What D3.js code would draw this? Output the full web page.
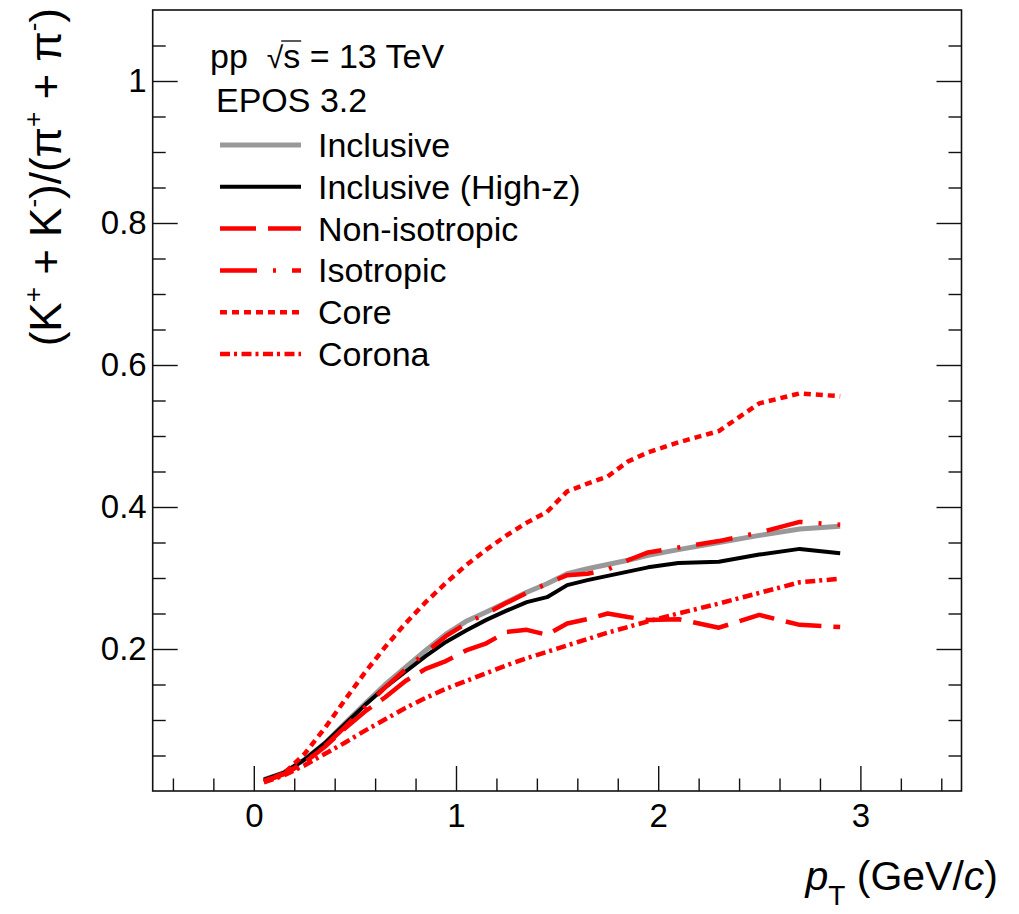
<!DOCTYPE html>
<html>
<head>
<meta charset="utf-8">
<script src="https://cdn.jsdelivr.net/npm/d3@7"></script>
<style>
  html, body { margin: 0; padding: 0; background: #fff; }
  svg { display: block; font-family: "Liberation Sans", Arial, Helvetica, sans-serif; }
</style>
</head>
<body>
<svg id="chart" width="1019" height="914"></svg>
<script>
// pT bin centres (GeV/c): 0.1 wide up to 2.0, 0.2 wide above
const ptBins = [0.05, 0.15, 0.25, 0.35, 0.45, 0.55, 0.65, 0.75, 0.85, 0.95,
                1.05, 1.15, 1.25, 1.35, 1.45, 1.55, 1.65, 1.75, 1.85, 1.95,
                2.1, 2.3, 2.5, 2.7, 2.9];

// (K+ + K-)/(pi+ + pi-) from EPOS 3.2, pp at 13 TeV
const inclusive    = [0.016, 0.026, 0.044, 0.067, 0.095, 0.123, 0.150, 0.174, 0.198, 0.221,
                      0.239, 0.252, 0.266, 0.280, 0.292, 0.306, 0.313, 0.319, 0.325, 0.332,
                      0.340, 0.350, 0.360, 0.369, 0.373];
const inclusiveHighZ = [0.016, 0.026, 0.044, 0.067, 0.094, 0.121, 0.146, 0.168, 0.190, 0.210,
                      0.226, 0.241, 0.254, 0.266, 0.273, 0.290, 0.297, 0.303, 0.309, 0.315,
                      0.321, 0.323, 0.333, 0.341, 0.335];
const nonIsotropic = [0.013, 0.024, 0.040, 0.062, 0.088, 0.112, 0.132, 0.155, 0.172, 0.183,
                      0.198, 0.208, 0.224, 0.227, 0.220, 0.236, 0.242, 0.250, 0.245, 0.241,
                      0.242, 0.230, 0.248, 0.234, 0.231];
const isotropic    = [0.014, 0.024, 0.040, 0.063, 0.090, 0.118, 0.146, 0.171, 0.195, 0.218,
                      0.236, 0.250, 0.265, 0.279, 0.292, 0.304, 0.306, 0.312, 0.325, 0.336,
                      0.343, 0.352, 0.364, 0.379, 0.375];
const core         = [0.014, 0.025, 0.052, 0.088, 0.128, 0.167, 0.203, 0.236, 0.266, 0.293,
                      0.318, 0.340, 0.360, 0.378, 0.393, 0.422, 0.433, 0.443, 0.464, 0.477,
                      0.491, 0.507, 0.546, 0.560, 0.556];
const corona       = [0.012, 0.022, 0.036, 0.052, 0.068, 0.085, 0.101, 0.117, 0.131, 0.144,
                      0.155, 0.166, 0.177, 0.187, 0.196, 0.205, 0.214, 0.223, 0.231, 0.239,
                      0.250, 0.264, 0.279, 0.294, 0.299];

const xMajorTicks = [0, 1, 2, 3];
const yMajorTicks = [0.2, 0.4, 0.6, 0.8, 1.0];
const yTickLabels = ["0.2", "0.4", "0.6", "0.8", "1"];

const seriesNames = ["Inclusive", "Inclusive (High-z)", "Non-isotropic", "Isotropic", "Core", "Corona"];
const seriesValues = [inclusive, inclusiveHighZ, nonIsotropic, isotropic, core, corona];
const seriesStyles = [
  { color: "#999999", width: 5,   dash: null },
  { color: "#000000", width: 4,   dash: null },
  { color: "#ff0000", width: 4.5, dash: "36 12" },
  { color: "#ff0000", width: 4.5, dash: "37 16 3 16" },
  { color: "#ff0000", width: 4.5, dash: "7 5" },
  { color: "#ff0000", width: 4.5, dash: "10 4 3 4.5" }
];

const svg = d3.select("#chart");
const frame = { left: 152.7, right: 961.5, top: 10, bottom: 791 };

const x = d3.scaleLinear().domain([-0.5, 3.5]).range([frame.left, frame.right]);
const y = d3.scaleLinear().domain([0, 1.1]).range([frame.bottom, frame.top]);

const tickFont = 33;

// ---- axes (ticks pointing inward) ----
const xMinor = d3.range(-4, 35, 2).map(v => v / 10).filter(v => !xMajorTicks.includes(v));
const yMinor = d3.range(1, 22, 1).map(v => v / 20).filter(v => !yMajorTicks.some(m => Math.abs(m - v) < 1e-9));

function styleAxis(g) {
  g.select(".domain").remove();
  g.selectAll(".tick line").attr("stroke", "#111").attr("stroke-width", 1.4);
  g.selectAll(".tick text").attr("fill", "#000").attr("font-size", tickFont)
    .attr("font-family", "Liberation Sans, Arial, sans-serif");
}

svg.append("g").attr("transform", `translate(0,${frame.bottom})`)
  .call(d3.axisBottom(x).tickValues(xMinor).tickSize(-12.5).tickFormat(""))
  .call(styleAxis);
svg.append("g").attr("transform", `translate(0,${frame.bottom})`)
  .call(d3.axisBottom(x).tickValues(xMajorTicks).tickSize(-25).tickPadding(13).tickFormat(d3.format("d")))
  .call(styleAxis);

svg.append("g").attr("transform", `translate(${frame.left},0)`)
  .call(d3.axisLeft(y).tickValues(yMinor).tickSize(-13).tickFormat(""))
  .call(styleAxis);
svg.append("g").attr("transform", `translate(${frame.left},0)`)
  .call(d3.axisLeft(y).tickValues(yMajorTicks).tickSize(-25).tickPadding(6)
        .tickFormat((d, i) => yTickLabels[i]))
  .call(styleAxis);

svg.append("g").attr("transform", `translate(${frame.right},0)`)
  .call(d3.axisRight(y).tickValues(yMinor).tickSize(-13).tickFormat(""))
  .call(styleAxis);
svg.append("g").attr("transform", `translate(${frame.right},0)`)
  .call(d3.axisRight(y).tickValues(yMajorTicks).tickSize(-25).tickFormat(""))
  .call(styleAxis);

// frame
svg.append("rect")
  .attr("x", frame.left).attr("y", frame.top)
  .attr("width", frame.right - frame.left).attr("height", frame.bottom - frame.top)
  .attr("fill", "none").attr("stroke", "#111").attr("stroke-width", 1.6);

// ---- curves ----
const line = d3.line().x(d => x(d[0])).y(d => y(d[1]));
const curves = svg.append("g");
seriesValues.forEach((vals, i) => {
  const st = seriesStyles[i];
  curves.append("path")
    .datum(ptBins.map((p, k) => [p, vals[k]]))
    .attr("d", line)
    .attr("fill", "none")
    .attr("stroke", st.color)
    .attr("stroke-width", st.width)
    .attr("stroke-linejoin", "round")
    .attr("stroke-dasharray", st.dash);
});

// ---- axis titles ----
const yTitle = svg.append("text")
  .attr("transform", "translate(61,8) rotate(-90)")
  .attr("text-anchor", "end")
  .attr("font-size", 44)
  .attr("fill", "#000");
const supSize = 26;
[["(K", null], ["+", "sup"], [" + K", "back"], ["-", "sup"], [")/(π", "back"],
 ["+", "sup"], [" + π", "back"], ["-", "sup"], [")", "back"]].forEach(([t, kind]) => {
  const ts = yTitle.append("tspan").text(t);
  if (kind === "sup") ts.attr("font-size", supSize).attr("dy", -19);
  if (kind === "back") ts.attr("dy", 19);
});

const xTitle = svg.append("text")
  .attr("x", 998).attr("y", 890)
  .attr("text-anchor", "end")
  .attr("font-size", 41)
  .attr("fill", "#000");
xTitle.append("tspan").attr("font-style", "italic").text("p");
xTitle.append("tspan").attr("font-size", 28).attr("dy", 15).text("T");
xTitle.append("tspan").attr("dy", -15).text(" (GeV/");
xTitle.append("tspan").attr("font-style", "italic").text("c");
xTitle.append("tspan").text(")");

// ---- header and legend ----
const legendFont = 34;
const header = svg.append("text")
  .attr("x", 210).attr("y", 68)
  .attr("font-size", legendFont).attr("fill", "#000")
  .attr("xml:space", "preserve")
  .style("white-space", "pre");
header.append("tspan").text("pp  ");
header.append("tspan").attr("font-size", 30).text("√");
header.append("tspan").text("s");
header.append("tspan").text(" = 13 TeV");
// overline of the square root over "s"
const sIndex = "pp  √".length;
const sBox = header.node().getExtentOfChar(sIndex);
const rootBox = header.node().getExtentOfChar(sIndex - 1);
svg.append("line")
  .attr("x1", rootBox.x + rootBox.width - 2).attr("x2", sBox.x + sBox.width + 1)
  .attr("y1", 41).attr("y2", 41)
  .attr("stroke", "#000").attr("stroke-width", 1.3);

svg.append("text")
  .attr("x", 216).attr("y", 112)
  .attr("font-size", legendFont).attr("fill", "#000")
  .text("EPOS 3.2");

const legendRowY = d3.scaleLinear().domain([0, 5]).range([145, 354]);
const legend = svg.append("g");
seriesNames.forEach((name, i) => {
  const st = seriesStyles[i];
  const cy = legendRowY(i);
  legend.append("line")
    .attr("x1", 220).attr("x2", 301).attr("y1", cy).attr("y2", cy)
    .attr("stroke", st.color).attr("stroke-width", st.width)
    .attr("stroke-dasharray", st.dash);
  legend.append("text")
    .attr("x", 318).attr("y", cy + 12)
    .attr("font-size", legendFont).attr("fill", "#000")
    .text(name);
});
</script>
</body>
</html>
